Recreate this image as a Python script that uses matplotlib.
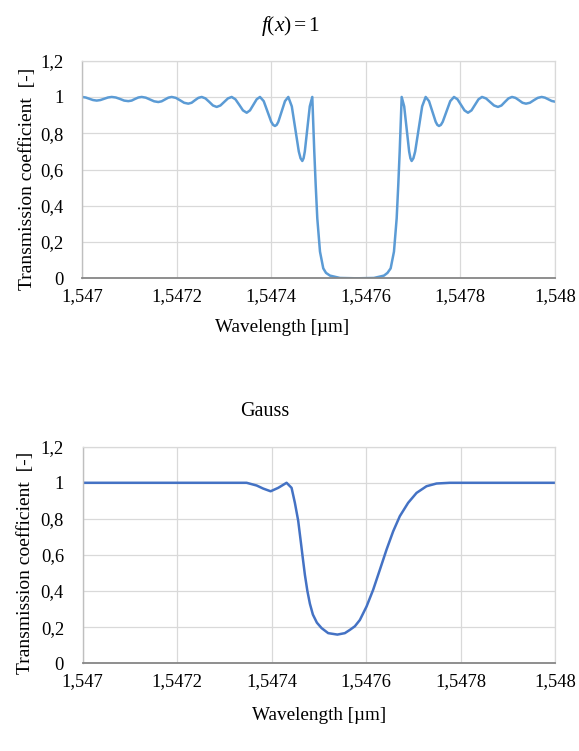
import matplotlib
matplotlib.use("Agg")
import matplotlib.pyplot as plt

plt.rcParams['font.family'] = ['Liberation Serif', 'DejaVu Serif']
plt.rcParams['mathtext.fontset'] = 'custom'
plt.rcParams['mathtext.it'] = 'Liberation Serif:italic'
plt.rcParams['mathtext.rm'] = 'Liberation Serif'

# uniform grating, f(x)=1
wl_uniform = [
    1.5470000, 1.5470078, 1.5470156, 1.5470233, 1.5470311, 1.5470390, 1.5470470, 1.5470549,
    1.5470628, 1.5470716, 1.5470804, 1.5470891, 1.5470979, 1.5471050, 1.5471121, 1.5471191,
    1.5471262, 1.5471350, 1.5471438, 1.5471525, 1.5471613, 1.5471684, 1.5471755, 1.5471825,
    1.5471896, 1.5471984, 1.5472072, 1.5472159, 1.5472247, 1.5472318, 1.5472389, 1.5472460,
    1.5472531, 1.5472610, 1.5472690, 1.5472769, 1.5472848, 1.5472927, 1.5473007, 1.5473086,
    1.5473165, 1.5473244, 1.5473324, 1.5473403, 1.5473482, 1.5473552, 1.5473623, 1.5473693,
    1.5473763, 1.5473842, 1.5473922, 1.5474001, 1.5474041, 1.5474080, 1.5474116, 1.5474151,
    1.5474221, 1.5474292,
    1.5474362, 1.5474436, 1.5474510, 1.5474584, 1.5474621, 1.5474658, 1.5474685, 1.5474711,
    1.5474764, 1.5474816,
    1.5474869, 1.5474911, 1.5474941, 1.5474975, 1.5475032, 1.5475101, 1.5475159, 1.5475243,
    1.5475455, 1.5475814, 1.5476173, 1.5476385, 1.5476459, 1.5476526, 1.5476596, 1.5476653,
    1.5476687, 1.5476717, 1.5476759, 1.5476812, 1.5476865, 1.5476917, 1.5476944, 1.5476970,
    1.5477007, 1.5477044,
    1.5477118, 1.5477192, 1.5477266, 1.5477337, 1.5477407, 1.5477478, 1.5477513, 1.5477548,
    1.5477588, 1.5477627,
    1.5477707, 1.5477786, 1.5477865, 1.5477939, 1.5478013, 1.5478087, 1.5478161, 1.5478235,
    1.5478309, 1.5478383, 1.5478457, 1.5478542, 1.5478626, 1.5478711, 1.5478795, 1.5478869,
    1.5478943, 1.5479017, 1.5479091, 1.5479165, 1.5479239, 1.5479313, 1.5479387, 1.5479470,
    1.5479553, 1.5479636, 1.5479719, 1.5479789, 1.5479860, 1.5479930, 1.5480000]
t_uniform = [
    1.000, 0.997, 0.990, 0.983, 0.980, 0.983, 0.990, 0.997,
    1.000, 0.997, 0.989, 0.980, 0.977, 0.980, 0.989, 0.997,
    1.000, 0.996, 0.986, 0.976, 0.972, 0.976, 0.986, 0.996,
    1.000, 0.995, 0.982, 0.968, 0.963, 0.968, 0.982, 0.995,
    1.000, 0.992, 0.973, 0.953, 0.945, 0.953, 0.973, 0.992,
    1.000, 0.987, 0.957, 0.926, 0.913, 0.926, 0.957, 0.987,
    1.000, 0.977, 0.920, 0.863, 0.846, 0.840, 0.846, 0.863,
    0.920, 0.977,
    1.000, 0.948, 0.824, 0.699, 0.662, 0.647, 0.662, 0.699,
    0.824, 0.948,
    1.000, 0.700, 0.515, 0.330, 0.147, 0.055, 0.030, 0.015,
    0.002, 0.000, 0.002, 0.015, 0.030, 0.055, 0.147, 0.330,
    0.515, 0.700, 1.000, 0.948, 0.824, 0.699, 0.662, 0.647,
    0.662, 0.699,
    0.824, 0.948, 1.000, 0.977, 0.920, 0.863, 0.846, 0.840,
    0.846, 0.863,
    0.920, 0.977, 1.000, 0.987, 0.957, 0.926, 0.913, 0.926,
    0.957, 0.987, 1.000, 0.992, 0.973, 0.953, 0.945, 0.953,
    0.973, 0.992, 1.000, 0.995, 0.982, 0.968, 0.963, 0.968,
    0.982, 0.995, 1.000, 0.996, 0.987, 0.978, 0.974]

# gaussian apodization
wl_gauss = [
    1.5470000, 1.5473471, 1.5473683, 1.5473822, 1.5473979, 1.5474140, 1.5474317, 1.5474423,
    1.5474493, 1.5474563, 1.5474620, 1.5474662, 1.5474705, 1.5474758, 1.5474811, 1.5474874,
    1.5474959, 1.5475058, 1.5475198, 1.5475393, 1.5475551, 1.5475657, 1.5475763, 1.5475869,
    1.5476011, 1.5476150, 1.5476292, 1.5476434, 1.5476574, 1.5476715, 1.5476891, 1.5477069,
    1.5477280, 1.5477492, 1.5477773, 1.5480000]
t_gauss = [
    1.000, 1.000, 0.985, 0.968, 0.953, 0.972, 1.000, 0.972,
    0.889, 0.790, 0.670, 0.580, 0.490, 0.400, 0.330, 0.270,
    0.225, 0.195, 0.167, 0.159, 0.167, 0.185, 0.205, 0.240,
    0.315, 0.407, 0.518, 0.630, 0.731, 0.815, 0.889, 0.944,
    0.981, 0.996, 1.000, 1.000]

x_ticks = [1.547, 1.5472, 1.5474, 1.5476, 1.5478, 1.548]
x_labels = ['1,547', '1,5472', '1,5474', '1,5476', '1,5478', '1,548']
y_ticks = [0, 0.2, 0.4, 0.6, 0.8, 1.0, 1.2]
y_labels = ['0', '0,2', '0,4', '0,6', '0,8', '1', '1,2']

fig = plt.figure(figsize=(5.79, 7.51), dpi=100)
ax1 = fig.add_axes([0.1416, 0.6294, 0.8169, 0.2898])
ax2 = fig.add_axes([0.1428, 0.1168, 0.8157, 0.2884])


def style(ax):
    ax.set_xlim(1.547, 1.548)
    ax.set_ylim(0, 1.2)
    ax.set_xticks(x_ticks, x_labels)
    ax.set_yticks(y_ticks, y_labels)
    ax.tick_params(length=0, labelsize=13.3)
    ax.tick_params(axis='y', pad=13.5)
    ax.tick_params(axis='x', pad=7)
    ax.grid(True, color='#D9D9D9', lw=0.9)
    ax.set_axisbelow(True)
    for s in ['top', 'right']:
        ax.spines[s].set_color('#D9D9D9')
        ax.spines[s].set_linewidth(0.9)
    ax.spines['left'].set_color('#BFBFBF')
    ax.spines['left'].set_linewidth(1.0)
    ax.spines['bottom'].set_color('#868686')
    ax.spines['bottom'].set_linewidth(1.3)


style(ax1)
style(ax2)

ax1.plot(wl_uniform, t_uniform, color='#5B9BD5', lw=1.8)
ax2.plot(wl_gauss, t_gauss, color='#4472C4', lw=1.8)

ax1.set_xlabel('Wavelength [\u00b5m]', fontsize=13.8, va='center')
ax1.xaxis.set_label_coords(0.424, -0.228)
ax1.set_ylabel('Transmission coefficient  [-]', fontsize=14, va='center')
ax1.yaxis.set_label_coords(-0.116, 0.456)

ax2.set_xlabel('Wavelength [\u00b5m]', fontsize=13.8, va='center')
ax2.xaxis.set_label_coords(0.5, -0.243)
ax2.set_ylabel('Transmission coefficient  [-]', fontsize=14, va='center')
ax2.yaxis.set_label_coords(-0.122, 0.463)

fig.text(0.5009, 0.9654, r'$\mathit{f(x)}\,$=$\,$1', fontsize=15.5, ha='center', va='center')
fig.text(0.457, 0.4514, 'Gauss', fontsize=14.5, ha='center', va='center')

fig.savefig('out.png', dpi=100)
